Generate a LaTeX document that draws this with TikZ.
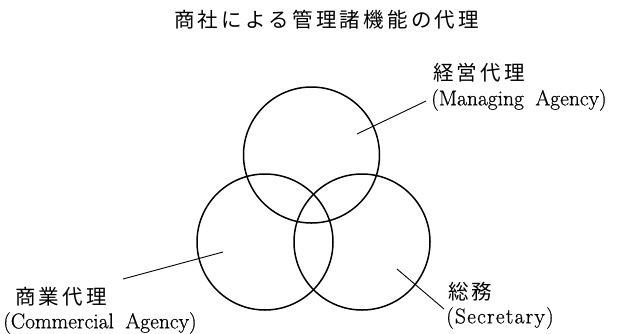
\documentclass[tikz,border=0pt]{standalone}
\usepackage{fontspec}
\newfontfamily\cjk{Noto Sans CJK JP}
\newfontfamily\lat[FakeBold=0.6]{Latin Modern Roman}
\newcommand\jk{\kern3.2pt}
\newcommand\lk{\kern1.2pt}
\begin{document}
\begin{tikzpicture}[x=1pt,y=-1pt,
  circ/.style={line width=1.5pt},
  lead/.style={line width=0.9pt},
  jp/.style={inner sep=0pt,anchor=west,font=\cjk\fontsize{20.5}{22}\selectfont},
  en/.style={inner sep=0pt,anchor=west,font=\lat\fontsize{21.5}{24}\selectfont}]
\useasboundingbox (0,0) rectangle (642,333);
% title
\node[inner sep=0pt,font=\cjk\fontsize{20.5}{22}\selectfont] (title) at (326.5,20)
  {商\jk 社\jk に\jk よ\jk る\jk 管\jk 理\jk 諸\jk 機\jk 能\jk の\jk 代\jk 理};
% circles
\draw[circ] (311.5,155) circle (68);
\draw[circ] (265,242) circle (68);
\draw[circ] (362,242) circle (68);
% labels
\node[jp] (mj) at (433,73) {経\jk 営\jk 代\jk 理};
\node[en] (me) at (431,100) {(Managing\hspace{5pt} Agency)};
\node[jp] (cj) at (15,297) {商\jk 業\jk 代\jk 理};
\node[en] (ce) at (3,323) {(Commercial\hspace{5pt} Agency)};
\node[jp] (sj) at (448,292) {総\jk 務};
\node[en] (se) at (446,318) {(\lk S\lk e\lk c\lk r\lk e\lk t\lk a\lk r\lk y\lk )};
% leaders
\coordinate (m1) at (357,134);
\coordinate (m2) at (426,101);
\coordinate (c1) at (223,252);
\coordinate (c2) at (123,279);
\coordinate (s1) at (397,269);
\coordinate (s2) at (444,309);
\draw[lead] (m1) -- (m2);
\draw[lead] (c1) -- (c2);
\draw[lead] (s1) -- (s2);
\end{tikzpicture}
\end{document}
